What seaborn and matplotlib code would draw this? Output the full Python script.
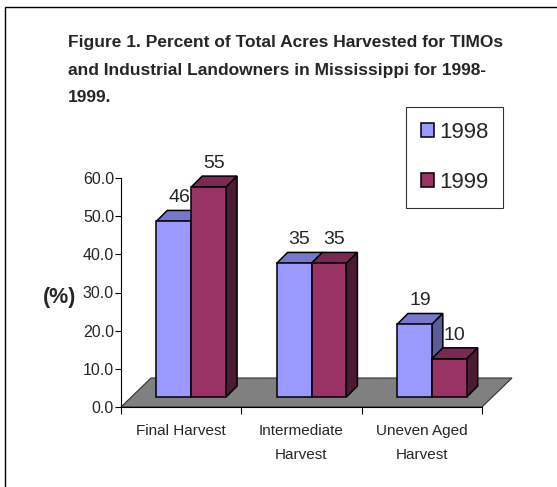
import matplotlib
matplotlib.use('Agg')
import matplotlib.pyplot as plt
import matplotlib.patches as mpatches
import pandas as pd
import seaborn as sns

# data
categories = ['Final Harvest', 'Intermediate\nHarvest', 'Uneven Aged\nHarvest']
years = ['1998', '1999']
pct_1998 = [46, 35, 19]
pct_1999 = [55, 35, 10]
y_ticks = [0, 10, 20, 30, 40, 50, 60]

front_colors = {'1998': '#9999FF', '1999': '#993366'}
top_colors = {'1998': '#7777CC', '1999': '#7A2952'}
side_colors = {'1998': '#5C5C99', '1999': '#4D1A33'}

df = pd.DataFrame({
    'harvest': categories * 2,
    'year': [years[0]] * 3 + [years[1]] * 3,
    'pct': pct_1998 + pct_1999,
})

sns.set_style('white')
plt.rcParams['font.family'] = ['Liberation Sans Narrow', 'Liberation Sans', 'DejaVu Sans']

fig = plt.figure(figsize=(5.57, 4.87), dpi=100)
ax = fig.add_axes([121 / 557, 80 / 487, 361 / 557, 229 / 487])

sns.barplot(data=df, x='harvest', y='pct', hue='year', order=categories,
            hue_order=years, palette=front_colors, saturation=1, width=0.58,
            gap=0, errorbar=None, edgecolor='black', linewidth=1.1,
            legend=False, ax=ax)

ax.set_xlim(-0.5, 2.5)
ax.set_ylim(0, 60)

# pixel -> data unit helpers for the fake 3D depth
bb = ax.get_window_extent()
ux = 3 / bb.width
uy = 60 / bb.height
ox, oy = 10 * ux, 10 * uy      # bars stand 1/3 into the floor
dx, dy = 11 * ux, 11 * uy      # bar depth
fdx, fdy = 30 * ux, 29 * uy    # floor depth

# floor
floor = mpatches.Polygon([(-0.5, 0), (2.5, 0), (2.5 + fdx, fdy), (-0.5 + fdx, fdy)],
                         closed=True, facecolor='#808080', edgecolor='#333333',
                         linewidth=0.8, zorder=1, clip_on=False)
ax.add_patch(floor)

values = {'1998': pct_1998, '1999': pct_1999}
for i, (year, container) in enumerate(zip(years, ax.containers)):
    base = 3 + i * 3
    for bar, val in zip(container, values[year]):
        x0 = bar.get_x() + ox
        w = bar.get_width()
        h = bar.get_height()
        bar.set_x(x0)
        bar.set_y(oy)
        bar.set_zorder(base + 1)
        bar.set_clip_on(False)
        y0, y1 = oy, oy + h
        top = mpatches.Polygon([(x0, y1), (x0 + w, y1), (x0 + w + dx, y1 + dy), (x0 + dx, y1 + dy)],
                               closed=True, facecolor=top_colors[year], edgecolor='black',
                               linewidth=1.1, zorder=base, clip_on=False)
        side = mpatches.Polygon([(x0 + w, y0), (x0 + w + dx, y0 + dy), (x0 + w + dx, y1 + dy), (x0 + w, y1)],
                                closed=True, facecolor=side_colors[year], edgecolor='black',
                                linewidth=1.1, zorder=base, clip_on=False)
        ax.add_patch(top)
        ax.add_patch(side)
        ax.annotate(f'{val:.0f}', xy=(x0 + w / 2 + dx / 2, y1 + dy), xytext=(0, 3),
                    textcoords='offset points', ha='center', va='bottom',
                    fontsize=14, zorder=10, annotation_clip=False)

# axes styling
for s in ['top', 'right']:
    ax.spines[s].set_visible(False)
for s in ['left', 'bottom']:
    ax.spines[s].set_color('black')
    ax.spines[s].set_linewidth(0.8)
    ax.spines[s].set_zorder(2)

ax.set_yticks(y_ticks)
ax.set_yticklabels([f'{v:.1f}' for v in y_ticks])
ax.tick_params(axis='y', left=True, direction='out', length=4, width=0.8,
               color='black', labelsize=11.5, pad=1)
ax.set_xticks([0, 1, 2])
ax.set_xticks([-0.5, 0.5, 1.5, 2.5], minor=True)
ax.tick_params(axis='x', which='major', bottom=True, length=0, labelsize=11, pad=12)
ax.tick_params(axis='x', which='minor', bottom=True, direction='out', length=5,
               width=0.8, color='black')
for lab in ax.get_xticklabels():
    lab.set_linespacing(1.95)
ax.set_xlabel('')
ax.set_ylabel('')

fig.text(60 / 557, 1 - 297 / 487, '(%)', ha='center', va='center',
         fontsize=15.5, fontweight='bold')

fig.text(68 / 557, 1 - 35 / 487,
         'Figure 1. Percent of Total Acres Harvested for TIMOs\n'
         'and Industrial Landowners in Mississippi for 1998-\n1999.',
         ha='left', va='top', fontsize=12.5, fontweight='bold', linespacing=2.05)

handles = [mpatches.Patch(facecolor=front_colors[y], edgecolor='black', linewidth=1.1, label=y)
           for y in years]
leg = fig.legend(handles=handles, loc='upper left', bbox_to_anchor=(406 / 557, 1 - 107 / 487),
                 frameon=True, fancybox=False, edgecolor='black', fontsize=16,
                 handlelength=0.6, handleheight=0.62, handletextpad=0.2,
                 labelspacing=1.3, borderpad=0.68, borderaxespad=0)
leg.get_frame().set_linewidth(0.8)

# outer frame (only left and top edges fall inside the picture)
fig.patches.append(mpatches.Rectangle((5 / 557, -0.1), 1.2, 1 - 7 / 487 + 0.1,
                                      transform=fig.transFigure, fill=False,
                                      edgecolor='black', linewidth=1))

fig.savefig('out.png', dpi=100)
